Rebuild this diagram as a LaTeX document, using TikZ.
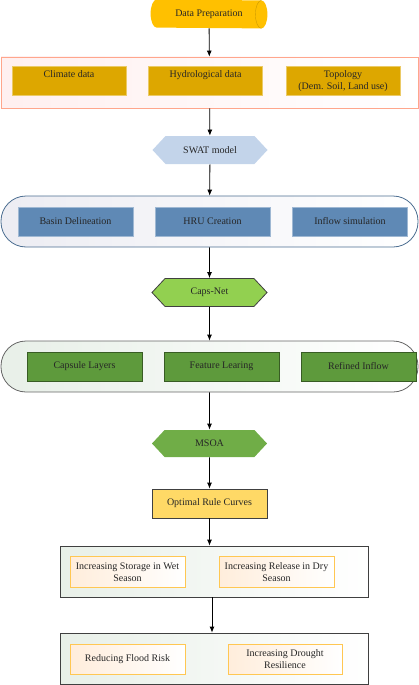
\documentclass[tikz,border=0pt]{standalone}
\usepackage{fontspec}
\setmainfont{Liberation Serif}
\usetikzlibrary{shapes.symbols,arrows.meta}

\definecolor{prepgold}{HTML}{FFC000}
\definecolor{datagold}{HTML}{DDA700}
\definecolor{swatblue}{HTML}{C3D4EA}
\definecolor{hrublue}{HTML}{5F89B5}
\definecolor{capsgreen}{HTML}{92D050}
\definecolor{leafgreen}{HTML}{5E9A3C}
\definecolor{msoagreen}{HTML}{70AD47}
\definecolor{rulegold}{HTML}{FFD966}
\definecolor{framegray}{HTML}{404040}

\begin{document}
\begin{tikzpicture}[
        x=1pt, y=-1pt,
        -{Latex[length=6pt,width=5pt]} ,
        line width=.8pt,
        font=\fontsize{10}{12}\selectfont,
        every node/.style={inner sep=0pt, align=center, text=black!85},
        source/.style ={minimum width=104pt, minimum height=28pt},
        stage/.style ={signal, signal to=east and west, signal pointer angle=94, draw, minimum width=115pt, minimum height=28pt},
        frame/.style ={draw=framegray, minimum width=308pt, minimum height=51pt, left color=green!20!gray!15, right color=white},
        band/.style ={minimum width=417pt, minimum height=51pt},
        databox/.style ={fill=datagold, draw=datagold!60!white, minimum width=114pt, minimum height=29pt, text depth=13pt},
        hrubox/.style ={fill=hrublue, draw=hrublue!60!white, minimum width=115pt, minimum height=29pt},
        capsbox/.style ={fill=leafgreen, draw=leafgreen!60!black, minimum width=115pt, minimum height=29pt},
        goalbox/.style ={draw=rulegold!80!orange, left color=orange!14, right color=white, minimum width=115pt, minimum height=31pt},
    ] 
    \useasboundingbox (0,0) rectangle (419,685);

    % cylinder drawn round the node
    \node[source] (prep) at (209,14) {};
    \fill[prepgold, -] (prep.north west) arc[start angle=270, end angle=90, x radius=6, y radius=14]
        -- (prep.south east) arc[start angle=90, end angle=-90, x radius=6, y radius=14] -- cycle;
    \draw[prepgold!80!black, line width=.4pt, -] (prep.south east) arc[start angle=90, end angle=270, x radius=6, y radius=14];
    \node at (prep) {Data Preparation};

    \node[band, draw=orange!45!red!45, left color=red!6, right color=white] (inputs) at (209.5,82.5) {};
    \node[databox] (climate) at (69,80.5) {Climate data};
    \node[databox] (hydro) at (205.5,80.5) {Hydrological data};
    \node[databox, text depth=0pt] (topo) at (343,80.5) {Topology\\(Dem. Soil, Land use)};

    \node[stage, fill=swatblue, draw=none] (swat) at (210,150) {SWAT model};

    \node[band, draw=hrublue!80!black, rounded corners=25pt, left color=blue!20!gray!12, right color=white] (swatgrp) at (209.5,221.5) {};
    \node[hrubox] (basin) at (75.5,221.5) {Basin Delineation};
    \node[hrubox] (hru) at (212.5,221.5) {HRU Creation};
    \node[hrubox] (inflow) at (350,221.5) {Inflow simulation};

    \node[stage, fill=capsgreen, draw=framegray] (caps) at (209.5,292.5) {Caps-Net};

    \node[band, draw=framegray!80, rounded corners=25pt, left color=green!20!gray!15, right color=white] (capsgrp) at (209.5,366.5) {};
    \node[capsbox] (layers) at (84.5,366.5) {Capsule Layers};
    \node[capsbox] (feature) at (221.5,366.5) {Feature Learing};
    \node[capsbox] (refined) at (358.5,366.5) {Refined Inflow};

    \node[stage, fill=msoagreen, draw=none, minimum height=27pt] (msoa) at (209.5,443.5) {MSOA};

    \node[fill=rulegold, draw=framegray, minimum width=115pt, minimum height=29pt] (rules) at (209.5,503.5) {Optimal Rule Curves};

    \node[frame] (season) at (214,571.5) {};
    \node[goalbox] (wet) at (127.5,572) {Increasing Storage in Wet\\Season};
    \node[goalbox] (dry) at (276.5,572) {Increasing Release in Dry\\Season};

    \node[frame] (effect) at (214,658.5) {};
    \node[goalbox, minimum height=30pt] (flood) at (127.5,659) {Reducing Flood Risk};
    \node[goalbox, minimum height=30pt, minimum width=114pt] (drought) at (285,659) {Increasing Drought\\Resilience};

    \path (prep) edge (inputs);
    \path (inputs) edge (swat);
    \path (swat) edge (swatgrp);
    \path (swatgrp) edge (caps);
    \path (caps) edge (capsgrp);
    \path (capsgrp) edge (msoa);
    \path (msoa) edge (rules);
    \path (rules.south) edge (rules.south |- season.north);
    \path (season.south -| 212,0) edge (effect.north -| 212,0);

\end{tikzpicture}
\end{document}
